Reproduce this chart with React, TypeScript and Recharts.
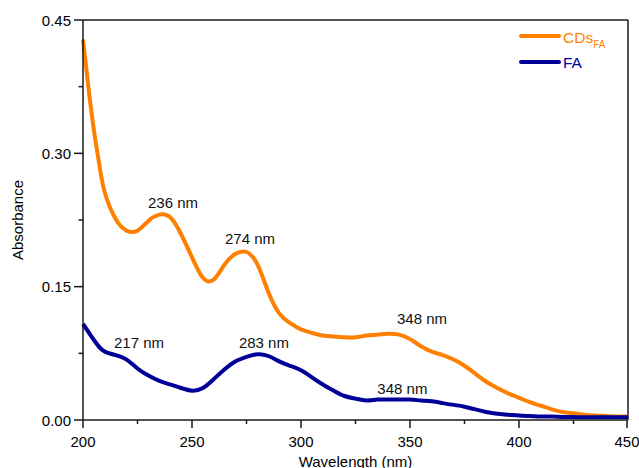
import React from 'react';
import {
  LineChart, Line, XAxis, YAxis, ReferenceLine, ReferenceDot, Legend
} from 'recharts';

// wavelength (nm)
const wavelengths = [
  200, 202.5, 205, 207.5, 210, 215, 220, 225, 230, 235, 240, 245, 250, 255, 260, 265, 270, 275, 280,
  285, 290, 295, 300, 305, 310, 315, 320, 325, 330, 335, 340, 345, 350, 355, 360, 365, 370,
  375, 380, 385, 390, 395, 400, 405, 410, 415, 420, 425, 430, 435, 440, 445, 450,
];

// absorbance, CDs_FA
const cdsFA = [
  0.428, 0.374, 0.326, 0.287, 0.256, 0.226, 0.213, 0.213, 0.224, 0.231, 0.228, 0.209, 0.183, 0.160, 0.158,
  0.175, 0.187, 0.189, 0.175, 0.144, 0.120, 0.109, 0.102, 0.098, 0.095, 0.094, 0.093, 0.093,
  0.095, 0.096, 0.097, 0.096, 0.091, 0.083, 0.077, 0.073, 0.068, 0.061, 0.052, 0.043, 0.036,
  0.030, 0.025, 0.020, 0.016, 0.012, 0.009, 0.0075, 0.006, 0.005, 0.0045, 0.004, 0.004,
];

// absorbance, FA
const fa = [
  0.108, 0.099, 0.090, 0.082, 0.077, 0.073, 0.068, 0.058, 0.050, 0.044, 0.040, 0.036, 0.033, 0.036, 0.046,
  0.057, 0.066, 0.071, 0.074, 0.072, 0.066, 0.061, 0.056, 0.048, 0.040, 0.033, 0.027, 0.024,
  0.022, 0.023, 0.023, 0.023, 0.023, 0.022, 0.021, 0.019, 0.017, 0.015, 0.012, 0.009, 0.007,
  0.006, 0.005, 0.0045, 0.004, 0.0038, 0.0035, 0.0033, 0.003, 0.003, 0.003, 0.003, 0.003,
];

const xTicks = [200, 225, 250, 275, 300, 325, 350, 375, 400, 425, 450];
const yTicks = [0, 0.075, 0.15, 0.225, 0.3, 0.375, 0.45];

const peakLabels = [
  { text: '236 nm', x: 241.3, y: 0.244 },
  { text: '274 nm', x: 276.6, y: 0.2045 },
  { text: '348 nm', x: 355.5, y: 0.1135 },
  { text: '217 nm', x: 225.7, y: 0.0875 },
  { text: '283 nm', x: 283.0, y: 0.0875 },
  { text: '348 nm', x: 346.5, y: 0.0357 },
];

const data = wavelengths.map((wl, i) => ({ wl, cds: cdsFA[i], fa: fa[i] }));

const ORANGE = '#FF8000';
const BLUE = '#000099';
const AXIS = '#1a1a1a';
const FONT = '"Liberation Sans", Arial, sans-serif';
const PLOT_LEFT = 83;
const PLOT_BOTTOM = 420;

const XTick = (props: any) => {
  const { x, payload } = props;
  const major = payload.value % 50 === 0;
  return (
    <g>
      <line x1={x} x2={x} y1={PLOT_BOTTOM} y2={PLOT_BOTTOM + (major ? 8 : 4)} stroke={AXIS} strokeWidth={1.5} />
      {major && (
        <text x={x} y={PLOT_BOTTOM + 26.5} textAnchor="middle" fontSize={15} fill="#000" fontFamily={FONT}>
          {payload.value}
        </text>
      )}
    </g>
  );
};

const YTick = (props: any) => {
  const { y, payload } = props;
  const major = Math.round(payload.value / 0.075) % 2 === 0;
  return (
    <g>
      <line x1={PLOT_LEFT - (major ? 9 : 4.5)} x2={PLOT_LEFT} y1={y} y2={y} stroke={AXIS} strokeWidth={1.5} />
      {major && (
        <text x={PLOT_LEFT - 12} y={y + 5.5} textAnchor="end" fontSize={15} fill="#000" fontFamily={FONT}>
          {payload.value.toFixed(2)}
        </text>
      )}
    </g>
  );
};

const renderLegend = () => (
  <svg width={120} height={56} style={{ display: 'block' }}>
    <line x1={6} x2={44} y1={14} y2={14} stroke={ORANGE} strokeWidth={4} strokeLinecap="round" />
    <text x={48} y={21} fontSize={15.5} fill={ORANGE} fontFamily={FONT}>
      CDs<tspan fontSize={10} dy={5}>FA</tspan>
    </text>
    <line x1={6} x2={44} y1={40} y2={40} stroke={BLUE} strokeWidth={4} strokeLinecap="round" />
    <text x={48} y={46} fontSize={15.5} fill={BLUE} fontFamily={FONT}>FA</text>
  </svg>
);

export default function App() {
  return (
    <div style={{ position: 'absolute', left: 0, top: 0, width: 639, height: 468, background: '#fff', fontFamily: FONT }}>
      <LineChart width={639} height={468} data={data} margin={{ top: 20, right: 11, bottom: 0, left: 0 }}>
        <XAxis
          dataKey="wl"
          type="number"
          domain={[200, 450]}
          ticks={xTicks}
          tick={XTick}
          tickLine={false}
          height={48}
          axisLine={{ stroke: AXIS, strokeWidth: 1.5 }}
          label={{
            content: () => (
              <text x={355.5} y={467} textAnchor="middle" fontSize={15} fill="#000" fontFamily={FONT}>
                Wavelength (nm)
              </text>
            ),
          }}
        />
        <YAxis
          type="number"
          domain={[0, 0.45]}
          ticks={yTicks}
          tick={YTick}
          tickLine={false}
          width={83}
          axisLine={{ stroke: AXIS, strokeWidth: 1.5 }}
          label={{
            content: () => (
              <text transform="translate(23,220) rotate(-90)" textAnchor="middle" fontSize={15} fill="#000" fontFamily={FONT}>
                Absorbance
              </text>
            ),
          }}
        />
        <ReferenceLine y={0.45} stroke={AXIS} strokeWidth={1.5} />
        <ReferenceLine x={450} stroke={AXIS} strokeWidth={1.5} />
        <Line type="natural" dataKey="cds" stroke={ORANGE} strokeWidth={4} dot={false} isAnimationActive={false} />
        <Line type="natural" dataKey="fa" stroke={BLUE} strokeWidth={4} dot={false} isAnimationActive={false} />
        {peakLabels.map((p, i) => (
          <ReferenceDot
            key={i}
            x={p.x}
            y={p.y}
            r={0}
            fill="none"
            stroke="none"
            label={{ value: p.text, position: 'center', fontSize: 15, fill: '#111', fontFamily: FONT }}
          />
        ))}
        <Legend
          layout="horizontal"
          verticalAlign="middle"
          align="center"
          content={renderLegend}
          wrapperStyle={{ left: 515, top: 22, width: 120, height: 56 }}
        />
      </LineChart>
    </div>
  );
}
